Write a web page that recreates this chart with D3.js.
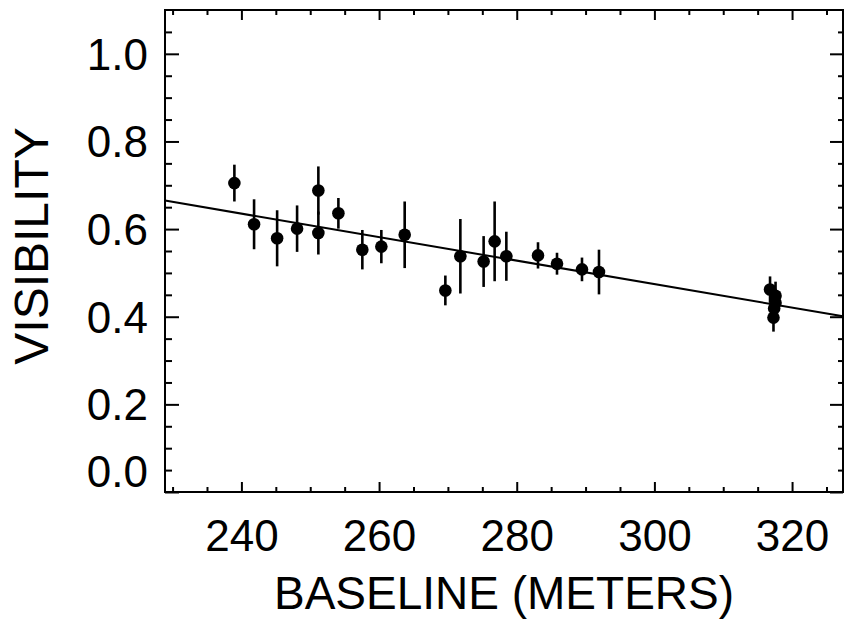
<!DOCTYPE html>
<html lang="en">
<head>
<meta charset="utf-8">
<title>Visibility vs baseline</title>
<script src="https://d3js.org/d3.v7.min.js"></script>
<style>
  body { margin: 0; background: white; }
  text { font-family: "Liberation Sans", Arial, Helvetica, sans-serif; fill: black; }
</style>
</head>
<body>
<div id="chart_data"></div>

<script>
// measured points (baseline in meters, visibility, error half-length)
var baseline = [238.98, 241.84, 245.19, 248.09, 251.18, 251.18, 254.09, 257.57, 260.33, 263.72,
                269.63, 271.81, 275.19, 276.79, 278.49, 283.09, 285.85, 289.48, 291.95,
                316.8, 317.6, 317.6, 317.4, 317.3];
var visibility = [0.705, 0.611, 0.579, 0.601, 0.688, 0.591, 0.636, 0.553, 0.560, 0.587,
                  0.460, 0.538, 0.526, 0.572, 0.538, 0.540, 0.521, 0.508, 0.502,
                  0.462, 0.448, 0.432, 0.419, 0.398];
var visErr = [0.042, 0.057, 0.064, 0.053, 0.055, 0.049, 0.035, 0.045, 0.038, 0.076,
              0.034, 0.085, 0.058, 0.091, 0.056, 0.030, 0.025, 0.027, 0.051,
              0.030, 0.032, 0.030, 0.030, 0.032];

// straight-line fit, end points
var fitX = [228.9, 327.4];
var fitY = [0.665, 0.401];

var xTicks = [240, 260, 280, 300, 320];
var xMinor = [230, 235, 245, 250, 255, 265, 270, 275, 285, 290, 295, 305, 310, 315, 325];
var yTicks = [0.0, 0.2, 0.4, 0.6, 0.8, 1.0];
var yMinor = [0.05, 0.1, 0.15, 0.25, 0.3, 0.35, 0.45, 0.5, 0.55, 0.65, 0.7, 0.75, 0.85, 0.9, 0.95, 1.05];

var margin = {top: 10, right: 7, bottom: 128, left: 165},
    width = 850 - margin.left - margin.right,
    height = 620 - margin.top - margin.bottom;

var svg = d3.select("#chart_data")
  .append("svg")
    .attr("width", 850)
    .attr("height", 620)
  .append("g")
    .attr("transform", "translate(" + margin.left + "," + margin.top + ")");

var x = d3.scaleLinear().domain([228.9, 327.4]).range([0, width]);
var y = d3.scaleLinear().domain([0, 1.1]).range([height, 0]);

function styleAxis(g) {
  g.select(".domain").remove();
  g.selectAll(".tick line").attr("stroke", "black").attr("stroke-width", 2);
}

// bottom axis with labels
svg.append("g")
  .attr("transform", "translate(0," + height + ")")
  .call(d3.axisBottom(x).tickValues(xTicks).tickSizeInner(-10).tickSizeOuter(0).tickPadding(28)
        .tickFormat(d3.format("d")))
  .call(styleAxis)
  .selectAll("text").style("font-size", "44px");
svg.append("g")
  .attr("transform", "translate(0," + height + ")")
  .call(d3.axisBottom(x).tickValues(xMinor).tickSizeInner(-5).tickSizeOuter(0).tickFormat(""))
  .call(styleAxis);

// top axis, ticks only
svg.append("g")
  .call(d3.axisTop(x).tickValues(xTicks).tickSizeInner(-10).tickSizeOuter(0).tickFormat(""))
  .call(styleAxis);
svg.append("g")
  .call(d3.axisTop(x).tickValues(xMinor).tickSizeInner(-5).tickSizeOuter(0).tickFormat(""))
  .call(styleAxis);

// left axis with labels
var yAx = svg.append("g")
  .call(d3.axisLeft(y).tickValues(yTicks).tickSizeInner(-14).tickSizeOuter(0).tickPadding(17)
        .tickFormat(d3.format(".1f")))
  .call(styleAxis);
yAx.selectAll("text").style("font-size", "44px")
  .attr("dy", function(d) { return d === 0 ? "-0.12em" : "0.35em"; });
svg.append("g")
  .call(d3.axisLeft(y).tickValues(yMinor).tickSizeInner(-7).tickSizeOuter(0).tickFormat(""))
  .call(styleAxis);

// right axis, ticks only
svg.append("g")
  .attr("transform", "translate(" + width + ",0)")
  .call(d3.axisRight(y).tickValues(yTicks).tickSizeInner(-13).tickSizeOuter(0).tickFormat(""))
  .call(styleAxis);
svg.append("g")
  .attr("transform", "translate(" + width + ",0)")
  .call(d3.axisRight(y).tickValues(yMinor).tickSizeInner(-5).tickSizeOuter(0).tickFormat(""))
  .call(styleAxis);

// frame
svg.append("rect")
  .attr("x", 0).attr("y", 0)
  .attr("width", width).attr("height", height)
  .attr("fill", "none")
  .attr("stroke", "black")
  .attr("stroke-width", 2);

// fit line
svg.append("path")
  .datum(d3.zip(fitX, fitY))
  .attr("fill", "none")
  .attr("stroke", "black")
  .attr("stroke-width", 2)
  .attr("d", d3.line()
    .x(function(d) { return x(d[0]); })
    .y(function(d) { return y(d[1]); }));

var pts = baseline.map(function(b, i) {
  return {b: b, v: visibility[i], e: visErr[i]};
});

// error bars
svg.selectAll(".err")
  .data(pts)
  .enter().append("line")
    .attr("class", "err")
    .attr("x1", function(d) { return x(d.b); })
    .attr("x2", function(d) { return x(d.b); })
    .attr("y1", function(d) { return y(d.v - d.e); })
    .attr("y2", function(d) { return y(d.v + d.e); })
    .attr("stroke", "black")
    .attr("stroke-width", 2.6);

// points
svg.selectAll(".dot")
  .data(pts)
  .enter().append("circle")
    .attr("class", "dot")
    .attr("cx", function(d) { return x(d.b); })
    .attr("cy", function(d) { return y(d.v); })
    .attr("r", 6.3)
    .attr("fill", "black");

// axis titles
svg.append("text")
  .attr("x", width / 2)
  .attr("y", height + 117)
  .attr("text-anchor", "middle")
  .style("font-size", "46px")
  .text("BASELINE (METERS)");

svg.append("text")
  .attr("transform", "translate(" + (-117) + "," + (height / 2 - 5) + ") rotate(-90)")
  .attr("text-anchor", "middle")
  .style("font-size", "48px")
  .text("VISIBILITY");
</script>
</body>
</html>
